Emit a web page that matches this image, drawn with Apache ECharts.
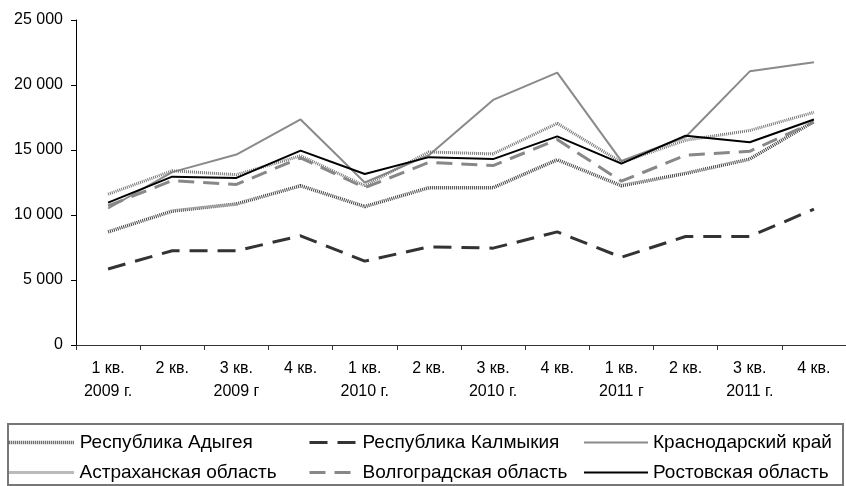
<!DOCTYPE html>
<html>
<head>
<meta charset="utf-8">
<script src="https://cdn.jsdelivr.net/npm/echarts@6/dist/echarts.min.js"></script>
<style>html,body{margin:0;padding:0;background:#fff}#c{width:846px;height:486px}</style>
</head>
<body>
<div id="c"></div>
<script>
const categories = ['1 кв.\n2009 г.', '2 кв.', '3 кв.\n2009 г', '4 кв.', '1 кв.\n2010 г.', '2 кв.', '3 кв.\n2010 г.', '4 кв.', '1 кв.\n2011 г', '2 кв.', '3 кв.\n2011 г.', '4 кв.'];
const adygea    = [8700, 10300, 10850, 12250, 10650, 12100, 12100, 14250, 12250, 13200, 14300, 17200];
const kalmykia  = [5850, 7250, 7250, 8400, 6450, 7550, 7450, 8700, 6750, 8350, 8350, 10450];
const krasnodar = [10500, 13300, 14650, 17350, 12500, 14600, 18850, 20950, 14150, 16000, 21050, 21750];
const astrakhan = [11600, 13400, 13100, 14550, 12250, 14850, 14700, 17050, 14050, 15750, 16500, 17900];
const volgograd = [10700, 12650, 12350, 14400, 12100, 14050, 13800, 15800, 12600, 14600, 14900, 17150];
const rostov    = [10950, 12950, 12850, 14950, 13150, 14450, 14300, 16050, 13950, 16100, 15600, 17350];
const names = ['Республика Адыгея', 'Республика Калмыкия', 'Краснодарский край', 'Астраханская область', 'Волгоградская область', 'Ростовская область'];

const FONT = 'Liberation Sans, Arial, sans-serif';
const chart = echarts.init(document.getElementById('c'), null, {renderer: 'canvas'});

function fmt(v) { return String(v).replace(/\B(?=(\d{3})+(?!\d))/g, ' '); }

const styles = [
  {color: '#444', width: 3.5, type: [1, 1]},
  {color: '#333', width: 3, type: [18, 10]},
  {color: '#8a8a8a', width: 2, type: 'solid'},
  {color: '#777', width: 3, type: [1, 1]},
  {color: '#888', width: 3, type: [16, 9]},
  {color: '#000', width: 2, type: 'solid'}
];
const dataArr = [adygea, kalmykia, krasnodar, astrakhan, volgograd, rostov];

function mkLegend(i, left, top, w) {
  return {
    data: [names[i]], left: left, top: top, padding: 0, itemWidth: w, itemHeight: 14,
    textStyle: {fontFamily: FONT, fontSize: 19, color: '#000'},
    itemStyle: {opacity: 0},
    lineStyle: {color: styles[i].color, width: styles[i].width, type: styles[i].type},
    selectedMode: false
  };
}

chart.setOption({
  animation: false,
  backgroundColor: '#fff',
  grid: {left: 76, top: 20, width: 775, height: 325},
  legend: [
    mkLegend(0, 7, 433, 66),
    mkLegend(1, 308, 433, 48),
    mkLegend(2, 583, 433, 64),
    mkLegend(3, 7, 463, 66),
    mkLegend(4, 308, 463, 48),
    mkLegend(5, 583, 463, 64)
  ],
  graphic: [{
    type: 'rect', shape: {x: 8, y: 424, width: 835, height: 61},
    style: {fill: 'none', stroke: '#777', lineWidth: 2}
  }],
  xAxis: {
    type: 'category', data: categories, boundaryGap: true,
    axisLine: {lineStyle: {color: '#333', width: 1}},
    axisTick: {show: true, length: 5, lineStyle: {color: '#333'}},
    axisLabel: {fontFamily: FONT, fontSize: 16, color: '#000', margin: 12, lineHeight: 23, interval: 0}
  },
  yAxis: {
    type: 'value', min: 0, max: 25000, interval: 5000,
    splitLine: {show: false},
    axisLine: {show: true, lineStyle: {color: '#000', width: 1}},
    axisTick: {show: true, length: 5, lineStyle: {color: '#000'}},
    axisLabel: {fontFamily: FONT, fontSize: 16, color: '#000', margin: 13, formatter: fmt}
  },
  series: names.map((n, i) => ({
    name: n, type: 'line', data: dataArr[i], symbol: 'none', showSymbol: false,
    lineStyle: styles[i], itemStyle: {color: styles[i].color},
    z: i === 5 ? 5 : 2
  }))
});
</script>
</body>
</html>
